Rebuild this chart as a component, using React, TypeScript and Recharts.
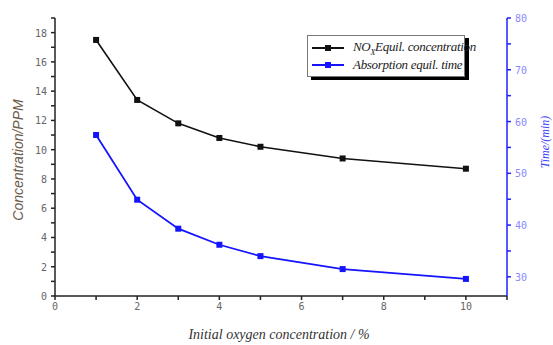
import React from 'react';
import { LineChart, Line, XAxis, YAxis } from 'recharts';

const oxygen = [1, 2, 3, 4, 5, 7, 10];
const noxConc = [17.5, 13.4, 11.8, 10.8, 10.2, 9.4, 8.7];
const absTime = [57.4, 44.9, 39.3, 36.2, 34.0, 31.5, 29.6];

const xTicks = [0, 1, 2, 3, 4, 5, 6, 7, 8, 9, 10, 11];
const leftTicks = [0, 1, 2, 3, 4, 5, 6, 7, 8, 9, 10, 11, 12, 13, 14, 15, 16, 17, 18, 19];
const rightTicks = [30, 35, 40, 45, 50, 55, 60, 65, 70, 75, 80];

const data = oxygen.map((x, i) => ({ x, nox: noxConc[i], time: absTime[i] }));

const tickFont = '"DejaVu Sans Mono", monospace';

const SquareDot = (color: string) => (props: any) => {
  const { cx, cy } = props;
  if (cx == null || cy == null) return <g />;
  return <rect x={cx - 3} y={cy - 3} width={6} height={6} fill={color} />;
};

const makeTick = (show: (v: number) => boolean, color: string, anchor: string) => (props: any) => {
  const { x, y, payload } = props;
  if (!show(payload.value)) return <g />;
  return (
    <text x={x} y={y} dy={4} textAnchor={anchor} fontFamily={tickFont} fontSize={10} fill={color}>
      {payload.value}
    </text>
  );
};

const LegendRow = ({ color, children }: { color: string; children: React.ReactNode }) => (
  <div style={{ display: 'flex', alignItems: 'center', height: 17, whiteSpace: 'nowrap' }}>
    <svg width={36} height={10} style={{ marginRight: 6, flex: 'none' }}>
      <line x1={1} y1={5} x2={33} y2={5} stroke={color} strokeWidth={2} />
      <rect x={14} y={2} width={6} height={6} fill={color} />
    </svg>
    <span>{children}</span>
  </div>
);

export default function App() {
  return (
    <div style={{ position: 'fixed', left: 0, top: 0, width: 553, height: 345, background: '#fff', overflow: 'hidden' }}>
      <LineChart width={553} height={345} data={data} margin={{ top: 18, right: 0, bottom: 0, left: 0 }}>
        <XAxis
          dataKey="x"
          type="number"
          domain={[0, 11]}
          ticks={xTicks}
          interval={0}
          height={49}
          stroke="#222"
          strokeWidth={1.5}
          tickSize={4}
          tick={makeTick((v) => v % 2 === 0 && v <= 10, '#666', 'middle')}
          tickMargin={6}
        />
        <XAxis
          xAxisId="top"
          orientation="top"
          dataKey="x"
          type="number"
          domain={[0, 11]}
          ticks={xTicks}
          interval={0}
          height={0}
          mirror
          stroke="#444"
          strokeWidth={1.5}
          tickSize={4}
          tick={false}
        />
        <YAxis
          yAxisId="left"
          domain={[0, 19]}
          ticks={leftTicks}
          interval={0}
          width={55}
          stroke="#222"
          strokeWidth={1.5}
          tickSize={4}
          tick={makeTick((v) => v % 2 === 0, '#666', 'end')}
          tickMargin={4}
        />
        <YAxis
          yAxisId="right"
          orientation="right"
          domain={[26.3, 80]}
          ticks={rightTicks}
          interval={0}
          width={46}
          stroke="#2020ff"
          strokeWidth={1.5}
          tickSize={4}
          tick={makeTick((v) => v % 10 === 0, '#8a8aff', 'start')}
          tickMargin={4}
        />
        <Line
          yAxisId="left"
          dataKey="nox"
          stroke="#111"
          strokeWidth={1.6}
          dot={SquareDot('#111')}
          isAnimationActive={false}
        />
        <Line
          yAxisId="right"
          dataKey="time"
          stroke="#1414ff"
          strokeWidth={1.8}
          dot={SquareDot('#1414ff')}
          isAnimationActive={false}
        />
      </LineChart>

      <div
        style={{
          position: 'absolute',
          left: 18,
          top: 160,
          transform: 'translate(-50%, -50%) rotate(-90deg)',
          whiteSpace: 'nowrap',
          fontFamily: '"Liberation Sans", sans-serif',
          fontStyle: 'italic',
          fontSize: 14,
          color: '#6b5b4b',
        }}
      >
        Concentration/PPM
      </div>
      <div
        style={{
          position: 'absolute',
          left: 545,
          top: 142,
          transform: 'translate(-50%, -50%) rotate(-90deg)',
          whiteSpace: 'nowrap',
          fontFamily: '"Liberation Serif", serif',
          fontStyle: 'italic',
          fontSize: 12,
          color: '#4040ff',
        }}
      >
        Time/(min)
      </div>
      <div
        style={{
          position: 'absolute',
          left: 279,
          top: 335,
          transform: 'translate(-50%, -50%)',
          whiteSpace: 'nowrap',
          fontFamily: '"Liberation Serif", serif',
          fontStyle: 'italic',
          fontSize: 14,
          color: '#333',
        }}
      >
        Initial oxygen concentration / %
      </div>

      <div
        style={{
          position: 'absolute',
          left: 307,
          top: 35,
          width: 158,
          height: 42,
          border: '1px solid #777',
          boxShadow: '4px 3px 0 #000',
          background: '#fff',
          boxSizing: 'border-box',
          padding: '3px 0 0 3px',
          fontFamily: '"Liberation Serif", serif',
          fontStyle: 'italic',
          fontSize: 13,
          letterSpacing: -0.3,
          color: '#222',
        }}
      >
        <LegendRow color="#111">
          NO<sub style={{ fontSize: 8 }}>X</sub>Equil. concentration
        </LegendRow>
        <LegendRow color="#1414ff">Absorption equil. time</LegendRow>
      </div>
    </div>
  );
}
